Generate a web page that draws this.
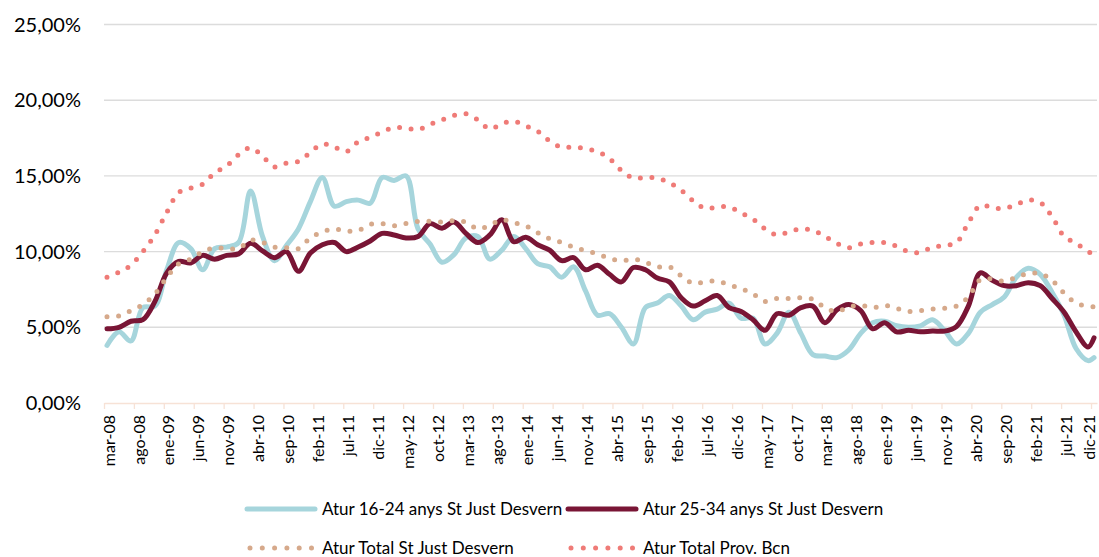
<!DOCTYPE html>
<html>
<head>
<meta charset="utf-8">
<script src="https://cdn.jsdelivr.net/npm/d3@7"></script>
<style>
  body { margin: 0; background: #fff; }
  #chart { width: 1099px; height: 557px; }
  text { font-family: Lato, "Open Sans", sans-serif; fill: #000; }
</style>
</head>
<body>
<div id="chart"></div>
<script>
// etiquetes de l'eix X (una cada 5 mesos, de mar-08 a dic-21)
const xLabels = [
  "mar-08", "ago-08", "ene-09", "jun-09", "nov-09", "abr-10", "sep-10", "feb-11",
  "jul-11", "dic-11", "may-12", "oct-12", "mar-13", "ago-13", "ene-14", "jun-14",
  "nov-14", "abr-15", "sep-15", "feb-16", "jul-16", "dic-16", "may-17", "oct-17",
  "mar-18", "ago-18", "ene-19", "jun-19", "nov-19", "abr-20", "sep-20", "feb-21",
  "jul-21", "dic-21",
];
const yTicks = [0, 5, 10, 15, 20, 25];

const seriesNames = [
  "Atur 16-24 anys St Just Desvern",
  "Atur 25-34 anys St Just Desvern",
  "Atur Total St Just Desvern",
  "Atur Total Prov. Bcn",
];

// valors (%) llegits cada dos mesos des de mar-08, i el darrer a dic-21
const atur1624 = [
  3.8, 4.7, 4.1, 6.3, 6.4, 8.8, 10.6, 10.2, 8.8, 10.2,
  10.3, 10.6, 14.0, 11.0, 9.4, 10.4, 11.5, 13.3, 14.9, 13.0,
  13.3, 13.4, 13.2, 14.9, 14.7, 15.0, 11.5, 10.5, 9.3, 9.8,
  10.9, 11.0, 9.5, 10.1, 11.0, 10.2, 9.2, 9.0, 8.3, 9.0,
  7.4, 5.8, 5.9, 5.0, 3.9, 6.3, 6.6, 7.1, 6.4, 5.5,
  6.0, 6.2, 6.6, 5.6, 5.6, 3.9, 4.6, 6.0, 4.6, 3.2,
  3.1, 3.0, 3.5, 4.6, 5.3, 5.4, 5.1, 5.0, 5.1, 5.5,
  4.8, 3.9, 4.6, 6.0, 6.5, 7.0, 8.3, 8.9, 8.5, 7.3,
  5.8, 3.6, 2.8, 3.0,
];
const atur2534 = [
  4.9, 5.0, 5.4, 5.5, 6.7, 8.6, 9.35, 9.25, 9.75, 9.5,
  9.75, 9.85, 10.55, 10.05, 9.6, 10.0, 8.7, 9.9, 10.45, 10.6,
  10.0, 10.3, 10.7, 11.2, 11.1, 10.9, 11.0, 11.85, 11.55, 11.95,
  11.2, 10.6, 11.1, 12.1, 10.65, 10.95, 10.45, 10.1, 9.4, 9.6,
  8.8, 9.1, 8.5, 8.0, 8.95, 8.8, 8.25, 8.0, 6.95, 6.4,
  6.75, 7.1, 6.3, 6.05, 5.5, 4.8, 5.9, 5.8, 6.3, 6.4,
  5.3, 6.15, 6.5, 6.1, 4.9, 5.3, 4.7, 4.8, 4.7, 4.75,
  4.75, 5.05, 6.4, 8.6, 8.1, 7.75, 7.75, 7.95, 7.75, 6.9,
  6.0, 4.7, 3.7, 4.3,
];
const aturTotalSJD = [
  5.7, 5.75, 6.1, 6.5, 7.2, 8.3, 9.2, 9.5, 10.0, 10.25,
  10.2, 10.2, 10.75, 10.6, 10.3, 10.25, 10.2, 10.9, 11.3, 11.5,
  11.35, 11.4, 11.8, 11.85, 11.7, 11.85, 12.0, 12.0, 11.95, 12.05,
  11.95, 11.5, 11.75, 12.1, 11.9, 11.7, 11.25, 10.85, 10.6, 10.3,
  10.05, 9.85, 9.55, 9.4, 9.5, 9.3, 9.0, 9.0, 8.4, 7.9,
  8.0, 8.05, 7.8, 7.55, 7.2, 6.7, 6.9, 6.9, 6.95, 6.85,
  6.3, 6.05, 6.35, 6.45, 6.3, 6.45, 6.25, 6.05, 6.1, 6.2,
  6.25, 6.4, 7.0, 8.15, 8.2, 8.05, 8.3, 8.55, 8.55, 8.1,
  7.25, 6.6, 6.4, 6.35,
];
const aturTotalBcn = [
  8.3, 8.65, 9.1, 10.0, 11.1, 12.6, 13.9, 14.2, 14.45, 15.2,
  15.65, 16.4, 16.85, 16.3, 15.6, 15.85, 15.95, 16.55, 17.1, 16.9,
  16.6, 17.25, 17.55, 17.9, 18.2, 18.15, 18.05, 18.4, 18.7, 19.0,
  19.1, 18.7, 18.1, 18.45, 18.6, 18.3, 17.95, 17.3, 16.9, 16.9,
  16.8, 16.6, 16.15, 15.35, 14.85, 14.9, 14.85, 14.55, 14.05, 13.35,
  12.85, 12.95, 12.95, 12.55, 12.15, 11.5, 11.1, 11.3, 11.5, 11.4,
  11.0, 10.55, 10.25, 10.5, 10.6, 10.6, 10.35, 10.0, 9.95, 10.3,
  10.4, 10.6, 11.9, 13.05, 12.9, 12.85, 13.1, 13.4, 13.25, 12.3,
  11.0, 10.55, 10.0, 9.8,
];

const nMonths = (xLabels.length - 1) * 5 + 1;
const monthIdx = d3.range(0, nMonths - 1, 2).concat([nMonths - 1]);

class AturChart {
  constructor({ el, series }) {
    this.el = el;
    this.series = series;
    this.init();
  }

  init() {
    this.width = 1099;
    this.height = 557;
    this.margin = { top: 24.5, right: 2, bottom: 154, left: 104 };

    this.x = d3
      .scaleLinear()
      .domain([0, nMonths])
      .range([this.margin.left, this.width - this.margin.right]);
    this.y = d3
      .scaleLinear()
      .domain([0, 25])
      .range([this.height - this.margin.bottom, this.margin.top]);

    const locale = d3.formatLocale({
      decimal: ",",
      thousands: ".",
      grouping: [3],
      currency: ["", "€"],
    });
    this.fmt = locale.format(".2f");

    this.svg = d3
      .select(this.el)
      .append("svg")
      .attr("width", this.width)
      .attr("height", this.height)
      .attr("viewBox", [0, 0, this.width, this.height]);

    this.render();
  }

  render() {
    const { x, y, svg } = this;
    const x0 = this.margin.left;
    const x1 = this.width - this.margin.right;
    const yBase = y(0);

    // graella horitzontal
    svg
      .append("g")
      .selectAll("line")
      .data(yTicks.filter((d) => d > 0))
      .join("line")
      .attr("x1", x0)
      .attr("x2", x1)
      .attr("y1", (d) => y(d))
      .attr("y2", (d) => y(d))
      .attr("stroke", "#dcdcdc")
      .attr("stroke-width", 1.4);

    svg
      .append("g")
      .selectAll("text")
      .data(yTicks)
      .join("text")
      .attr("x", 81)
      .attr("y", (d) => y(d))
      .attr("dy", "0.35em")
      .attr("text-anchor", "end")
      .style("font-size", "20px")
      .text((d) => this.fmt(d) + "%");

    // eix X
    const gX = svg
      .append("g")
      .attr("transform", `translate(0,${yBase})`)
      .call(
        d3
          .axisBottom(x)
          .tickValues(d3.range(0, nMonths, 5))
          .tickSize(6)
          .tickSizeOuter(0)
          .tickFormat("")
      );
    gX.selectAll("line, path").attr("stroke", "#f7e2d6").attr("stroke-width", 1.3);

    svg
      .append("g")
      .selectAll("text")
      .data(xLabels)
      .join("text")
      .attr("transform", (d, i) => {
        const lx = Math.min(x(i * 5 + 0.5) + 2, x1 - 8);
        return `translate(${lx},415) rotate(-90)`;
      })
      .attr("dy", "0.35em")
      .attr("text-anchor", "end")
      .style("font-size", "16px")
      .text((d) => d);

    const line = d3
      .line()
      .x((d) => x(d[0] + 0.5))
      .y((d) => y(d[1]))
      .curve(d3.curveCatmullRom);

    svg
      .append("g")
      .selectAll("path")
      .data(this.series)
      .join("path")
      .attr("d", (s) => line(monthIdx.map((m, i) => [m, s.values[i]])))
      .attr("fill", "none")
      .attr("stroke", (s) => s.color)
      .attr("stroke-width", 5)
      .attr("stroke-linecap", "round")
      .attr("stroke-linejoin", "round")
      .attr("stroke-dasharray", (s) => (s.dotted ? "0 11.6" : null));

    // llegenda
    const legendPos = [
      [247, 509],
      [568, 509],
      [247, 548],
      [568, 548],
    ];
    const item = svg
      .append("g")
      .selectAll("g")
      .data(this.series)
      .join("g")
      .attr("transform", (s, i) => `translate(${legendPos[i][0]},${legendPos[i][1]})`);
    item
      .append("line")
      .attr("x1", (s) => (s.dotted ? 3 : 0))
      .attr("x2", (s) => (s.dotted ? 65 : 68))
      .attr("stroke", (s) => s.color)
      .attr("stroke-width", 5)
      .attr("stroke-linecap", "round")
      .attr("stroke-dasharray", (s) => (s.dotted ? "0 12.3" : null));
    item
      .append("text")
      .attr("x", 75)
      .attr("dy", "0.35em")
      .style("font-size", "17px")
      .text((s) => s.name);
  }
}

new AturChart({
  el: document.getElementById("chart"),
  series: [
    { name: seriesNames[0], values: atur1624, color: "#a6d5dc" },
    { name: seriesNames[1], values: atur2534, color: "#791535" },
    { name: seriesNames[2], values: aturTotalSJD, color: "#d6a98b", dotted: true },
    { name: seriesNames[3], values: aturTotalBcn, color: "#ef7b77", dotted: true },
  ],
});
</script>
</body>
</html>
